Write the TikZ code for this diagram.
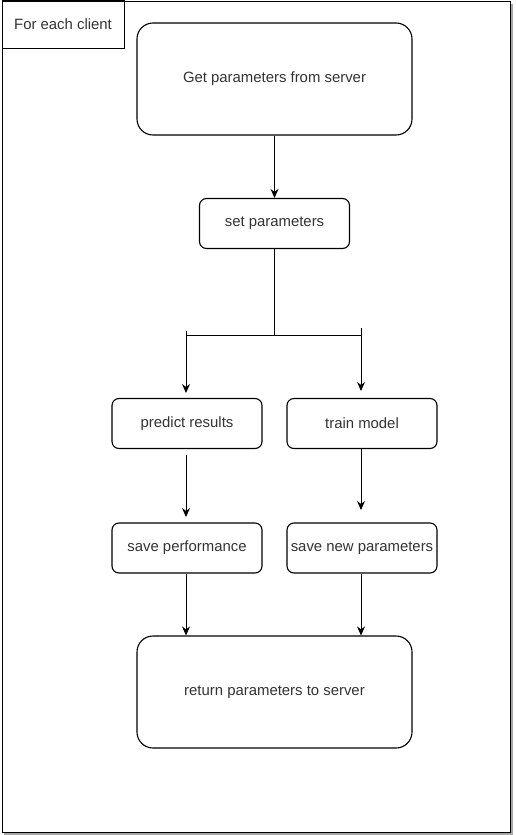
\documentclass[tikz,border=0pt]{standalone}
\usepackage{fontspec}
\setmainfont{Liberation Sans}
\usetikzlibrary{arrows.meta}
\begin{document}
\begin{tikzpicture}[x=1pt,y=-1pt,
  lbl/.style={font=\fontsize{14.9}{17}\selectfont, text=black!80},
  bigbox/.style={draw, line width=1.1pt, rounded corners=16pt, minimum width=275pt, minimum height=112pt, lbl},
  smallbox/.style={draw, line width=1.1pt, rounded corners=7pt, minimum width=150pt, minimum height=50pt, lbl, inner sep=1pt},
  conn/.style={draw, line width=1pt},
  arr/.style={conn, -{Stealth[length=9pt,width=8pt]}}]
\useasboundingbox (0,0) rectangle (515,835);
\fill[white] (0,0) rectangle (515,835);
% outer frame with shadow
\draw[gray!70, line width=2pt] (512,4) -- (512,834) -- (4,834);
\draw[line width=1pt] (2,1) rectangle (510,832);
% label box
\node[draw, line width=1.1pt, minimum width=122pt, minimum height=48pt, anchor=north west, lbl, inner sep=0pt] (title) at (1.5,0) {For each client};
% nodes
\node[bigbox] (get) at (274.5,79) {Get parameters from server};
\node[smallbox] (setp) at (274.5,223.5) {set parameters};
\node[smallbox] (pred) at (187,423.5) {predict results};
\node[smallbox] (train) at (362,423.5) {train model};
\node[smallbox] (perf) at (187,548) {save performance};
\node[smallbox] (newp) at (362,548) {save new parameters};
\node[bigbox] (ret) at (274.5,692) {return parameters to server};
% coordinates
\coordinate (j) at (274.5,335);
\coordinate (jl) at (186,335);
\coordinate (jr) at (361,335);
\coordinate (sl) at (186,331);
\coordinate (sr) at (361,328);
\coordinate (el) at (186,393);
\coordinate (er) at (361,391);
\coordinate (p1) at (186,455);
\coordinate (p2) at (186,517);
\coordinate (t2) at (361,510);
% connectors
\draw[arr] (get.south) -- (setp.north);
\draw[conn] (setp.south) -- (j);
\draw[conn] (jl) -- (jr);
\draw[arr] (sl) -- (el);
\draw[arr] (sr) -- (er);
\draw[arr] (p1) -- (p2);
\draw[arr] (train.south -| t2) -- (t2);
\draw[arr] (perf.south -| p1) -- (ret.north -| p1);
\draw[arr] (newp.south -| t2) -- (ret.north -| t2);
\end{tikzpicture}
\end{document}
